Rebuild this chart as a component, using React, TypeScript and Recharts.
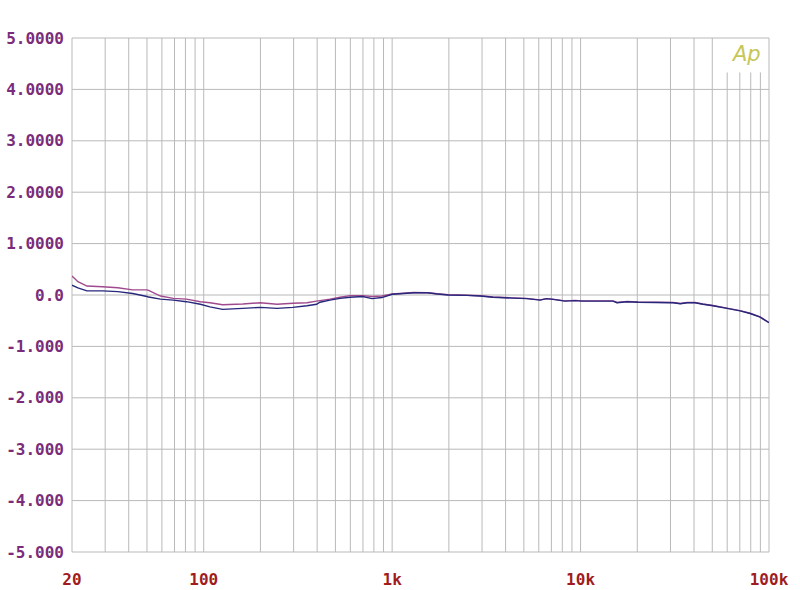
import { LineChart, Line, XAxis, YAxis, ReferenceLine } from "recharts";

// frequency points (Hz)
const freq = [
  20, 21.5, 24, 29, 35, 42, 50, 51, 59, 69, 81, 96, 108, 126, 161, 200, 245, 297, 353, 397,
  414, 468, 529, 598, 699, 781, 882, 1000, 1150, 1300, 1540, 1735, 1985, 2500, 2930, 3430,
  4370, 5170, 6100, 6610, 7120, 8260, 9350, 10200, 14870, 15600, 17650, 20200, 31000, 33800,
  36800, 40500, 44600, 50400, 59800, 70200, 79400, 89700, 100000,
];

const levelNavy = [
  0.19, 0.14, 0.08, 0.08, 0.065, 0.03, -0.03, -0.04, -0.08, -0.1, -0.13, -0.18, -0.23, -0.28,
  -0.26, -0.24, -0.26, -0.24, -0.21, -0.18, -0.14, -0.1, -0.065, -0.045, -0.03, -0.07, -0.05,
  0.015, 0.03, 0.045, 0.045, 0.02, 0, -0.007, -0.02, -0.045, -0.06, -0.07, -0.1, -0.07, -0.085,
  -0.12, -0.11, -0.12, -0.12, -0.15, -0.13, -0.14, -0.15, -0.17, -0.15, -0.15, -0.18, -0.21,
  -0.26, -0.31, -0.36, -0.43, -0.54,
];

const levelMagenta = [
  0.37, 0.26, 0.175, 0.16, 0.14, 0.1, 0.1, 0.09, -0.02, -0.065, -0.08, -0.13, -0.15, -0.19,
  -0.175, -0.15, -0.18, -0.16, -0.15, -0.12, -0.11, -0.08, -0.045, -0.013, -0.013, -0.03, -0.02,
  0.02, 0.035, 0.05, 0.045, 0.025, 0.005, -0.005, -0.015, -0.04, -0.055, -0.065, -0.095, -0.07,
  -0.08, -0.115, -0.105, -0.115, -0.115, -0.145, -0.125, -0.135, -0.145, -0.165, -0.145, -0.145,
  -0.175, -0.205, -0.255, -0.305, -0.355, -0.425, -0.535,
];

const xTicks = [20, 100, 1000, 10000, 100000];
const xLabels = ["20", "100", "1k", "10k", "100k"];
const yTicks = [5, 4, 3, 2, 1, 0, -1, -2, -3, -4, -5];
const yLabels = ["5.0000", "4.0000", "3.0000", "2.0000", "1.0000", "0.0", "-1.000", "-2.000", "-3.000", "-4.000", "-5.000"];

const data = freq.map((f, i) => ({ f, navy: levelNavy[i], magenta: levelMagenta[i] }));

// vertical grid: 1..9 per decade, 20 Hz to 100 kHz
const gridFreqs: number[] = [];
for (const d of [10, 100, 1000, 10000]) {
  for (let m = 1; m <= 9; m++) {
    const v = d * m;
    if (v >= 20) gridFreqs.push(v);
  }
}
gridFreqs.push(100000);
const shortLines = [60000, 70000, 80000, 90000];

const gridColor = "#b9b9b9";
const mono = "'DejaVu Sans Mono', monospace";

function XTick({ x, y, payload }: any) {
  const i = xTicks.indexOf(payload.value);
  return (
    <text x={x} y={y} dy={25} textAnchor="middle" fill="#a01c1c" fontFamily={mono} fontWeight="bold" fontSize={16}>
      {xLabels[i]}
    </text>
  );
}

function YTick({ x, y, payload }: any) {
  const i = yTicks.indexOf(payload.value);
  return (
    <text x={x} y={y} dy={5.5} textAnchor="end" fill="#7a2c7a" fontFamily={mono} fontWeight="bold" fontSize={16}>
      {yLabels[i]}
    </text>
  );
}

export default function App() {
  return (
    <div style={{ position: "absolute", left: 0, top: 0, width: 800, height: 590, background: "#fff" }}>
      <LineChart width={800} height={590} data={data} margin={{ top: 38, right: 31, bottom: 0, left: 0 }}>
        <XAxis
          dataKey="f"
          type="number"
          scale="log"
          domain={[20, 100000]}
          allowDataOverflow
          ticks={xTicks}
          tick={<XTick />}
          tickLine={false}
          axisLine={false}
          interval={0}
          height={38}
        />
        <YAxis
          type="number"
          domain={[-5, 5]}
          ticks={yTicks}
          tick={<YTick />}
          tickLine={false}
          axisLine={false}
          width={72}
          interval={0}
        />
        {yTicks.map((v) => (
          <ReferenceLine key={"h" + v} y={v} stroke={gridColor} strokeWidth={1} />
        ))}
        {gridFreqs.map((f) =>
          shortLines.includes(f) ? (
            <ReferenceLine
              key={"v" + f}
              segment={[
                { x: f, y: -5 },
                { x: f, y: 4.33 },
              ]}
              stroke={gridColor}
              strokeWidth={1}
            />
          ) : (
            <ReferenceLine key={"v" + f} x={f} stroke={gridColor} strokeWidth={1} />
          )
        )}
        <Line dataKey="magenta" type="linear" stroke="#a04a8e" strokeWidth={1.4} dot={false} isAnimationActive={false} />
        <Line dataKey="navy" type="linear" stroke="#27277c" strokeWidth={1.4} dot={false} isAnimationActive={false} />
      </LineChart>
      <span
        style={{
          position: "absolute",
          left: 733,
          top: 42,
          fontFamily: "'DejaVu Sans', sans-serif",
          fontStyle: "italic",
          fontSize: 21,
          color: "#c6c65a",
        }}
      >
        Ap
      </span>
    </div>
  );
}
